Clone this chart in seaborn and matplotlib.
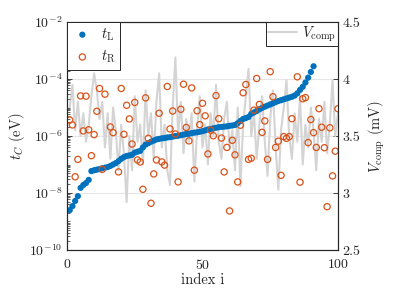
"""
Tunnel couplings t_L / t_R (log scale) with compensation voltage on a twin axis
"""
import numpy as np
import pandas as pd
import seaborn as sns
import matplotlib.pyplot as plt
from matplotlib.ticker import LogLocator, NullFormatter

# ---- data ----
idx_L = list(range(1, 92))
log_tL = [-8.60, -8.46, -8.28, -8.11, -7.82, -7.72, -7.65, -7.54, -7.23, -7.20,
          -7.18, -7.16, -7.13, -7.11, -7.09, -7.05, -7.00, -6.95, -6.88, -6.80,
          -6.74, -6.70, -6.68, -6.66, -6.58, -6.55, -6.52, -6.40, -6.30, -6.25,
          -6.20, -6.16, -6.12, -6.10, -6.08, -6.07, -6.05, -6.04, -6.02, -6.00,
          -5.99, -5.97, -5.95, -5.93, -5.92, -5.90, -5.88, -5.87, -5.85, -5.83,
          -5.80, -5.77, -5.75, -5.73, -5.71, -5.69, -5.68, -5.67, -5.66, -5.64,
          -5.63, -5.61, -5.55, -5.47, -5.40, -5.37, -5.33, -5.22, -5.17, -5.12,
          -5.06, -5.01, -4.97, -4.93, -4.89, -4.85, -4.81, -4.77, -4.74, -4.71,
          -4.68, -4.65, -4.62, -4.58, -4.50, -4.38, -4.27, -4.12, -3.95, -3.75,
          -3.55]

idx_R = [1, 2, 3, 4, 5, 6, 7, 8, 9, 10, 11, 12, 13, 14, 15, 16, 17, 19, 20, 21,
         22, 23, 24, 25, 26, 27, 28, 29, 30, 31, 32, 33, 34, 35, 36, 37, 38, 39, 40, 41,
         42, 43, 44, 45, 46, 47, 48, 49, 50, 51, 52, 53, 54, 55, 56, 57, 58, 59, 60, 61,
         62, 63, 64, 65, 66, 67, 68, 69, 70, 71, 72, 73, 74, 75, 76, 77, 78, 79, 80, 81,
         82, 83, 85, 86, 87, 88, 89, 90, 91, 92, 93, 94, 95, 96, 97, 98, 99, 100]
log_tR = [-5.44, -5.61, -7.43, -6.82, -4.59, -5.82, -4.60, -5.78, -6.69, -5.95,
          -5.13, -4.33, -7.17, -4.53, -3.55, -5.68, -5.88, -7.26, -4.33, -5.94,
          -4.92, -5.40, -6.28, -4.82, -6.84, -6.91, -7.87, -4.66, -6.08, -8.36,
          -7.33, -6.84, -5.20, -6.91, -7.02, -4.26, -5.75, -5.12, -5.93, -7.61,
          -5.06, -4.18, -5.70, -6.17, -4.31, -7.20, -5.11, -5.60, -4.85, -5.29,
          -6.63, -5.79, -5.99, -4.58, -5.39, -6.07, -7.26, -6.40, -8.63, -6.15,
          -6.66, -7.61, -5.62, -4.48, -4.19, -6.82, -6.78, -5.09, -3.98, -4.89,
          -5.87, -5.47, -6.82, -3.74, -4.62, -6.40, -6.18, -7.38, -6.02, -6.08,
          -6.02, -5.39, -3.92, -7.62, -4.69, -4.65, -6.23, -5.42, -5.88, -6.40,
          -5.04, -5.69, -6.41, -8.48, -5.71, -7.40, -6.53, -5.04]

idx_V = list(range(1, 101))
V_comp = [3.75, 3.95, 3.55, 3.80, 3.50, 3.70, 3.45, 3.60, 3.85, 4.05,
          3.90, 3.65, 3.80, 3.40, 3.70, 3.30, 3.75, 3.55, 3.20, 3.60,
          3.35, 2.92, 3.50, 3.20, 3.85, 3.45, 3.60, 3.25, 3.90, 3.50,
          3.70, 3.30, 3.80, 4.05, 3.40, 3.60, 3.20, 3.07, 3.75, 4.19,
          3.50, 3.80, 3.35, 3.65, 3.45, 3.70, 3.10, 3.55, 3.85, 3.40,
          3.60, 3.25, 3.70, 3.50, 3.95, 3.45, 3.30, 3.65, 3.80, 3.40,
          3.55, 3.20, 3.75, 3.06, 3.60, 3.85, 4.09, 3.50, 3.70, 3.30,
          3.60, 3.85, 3.45, 3.15, 3.65, 3.90, 3.40, 3.03, 3.55, 3.75,
          3.99, 3.50, 3.30, 3.70, 3.45, 3.85, 3.25, 3.60, 3.40, 3.75,
          3.55, 3.20, 3.65, 3.45, 3.80, 3.35, 3.60, 3.99, 3.50, 3.70]

x_ticks = [0, 50, 100]
t_ticks = [1e-10, 1e-8, 1e-6, 1e-4, 1e-2]
v_ticks = [2.5, 3, 3.5, 4, 4.5]
v_ticklabels = ['2.5', '3', '3.5', '4', '4.5']

df_L = pd.DataFrame({'i': idx_L, 't': 10.0 ** np.array(log_tL)})
df_R = pd.DataFrame({'i': idx_R, 't': 10.0 ** np.array(log_tR)})
df_V = pd.DataFrame({'i': idx_V, 'V': V_comp})

# ---- style ----
sns.set_theme(style="white")
plt.rcParams['font.family'] = ['cmr10', 'DejaVu Serif']
plt.rcParams['mathtext.fontset'] = 'cm'
plt.rcParams['axes.formatter.use_mathtext'] = True
plt.rcParams['font.size'] = 10

BLUE = '#0072BD'
ORANGE = '#D95319'
DARK = '0.15'

fig = plt.figure(figsize=(3.99, 2.99), dpi=100)
ax_t = fig.add_axes([0.168, 0.164, 0.679, 0.762])
ax_v = ax_t.twinx()
# keep the scatter axes on top of the gray line
ax_t.set_zorder(ax_v.get_zorder() + 1)
ax_t.patch.set_visible(False)

# gray compensation voltage on the right axis
sns.lineplot(data=df_V, x='i', y='V', ax=ax_v, color='0.83', linewidth=1.5,
             label=r'$V_\mathrm{comp}$')

# t_L / t_R on the left (log) axis
sns.scatterplot(data=df_L, x='i', y='t', ax=ax_t, color=BLUE, s=20,
                edgecolor='none', label=r'$t_\mathrm{L}$')
sns.scatterplot(data=df_R, x='i', y='t', ax=ax_t, facecolors='none',
                edgecolors=ORANGE, s=20, linewidth=0.9, label=r'$t_\mathrm{R}$')

ax_t.set_yscale('log')
ax_t.set_xlim(0, 100)
ax_t.set_ylim(1e-10, 1e-2)
ax_t.set_xticks(x_ticks)
ax_t.set_yticks(t_ticks)
ax_t.yaxis.set_minor_locator(LogLocator(base=10, subs=np.arange(1, 10), numticks=100))
ax_t.yaxis.set_minor_formatter(NullFormatter())

ax_v.set_ylim(2.5, 4.5)
ax_v.set_yticks(v_ticks, labels=v_ticklabels)

ax_t.set_xlabel('index i', fontsize=10.5, color=DARK, labelpad=1)
ax_t.set_ylabel(r'$t_C$ (eV)', fontsize=10.5, color=DARK, labelpad=2)
ax_v.set_ylabel(r'$V_\mathrm{comp}$ (mV)', fontsize=10.5, color=DARK, labelpad=5)

# grid lines (right-axis ticks line up with the left-axis decades)
ax_v.grid(True, color='0.9', linewidth=0.8)
ax_v.xaxis.grid(True, color='0.9', linewidth=0.8)
ax_t.grid(False)

for ax in (ax_t, ax_v):
    for sp in ax.spines.values():
        sp.set_color(DARK)
        sp.set_linewidth(0.8)
    ax.tick_params(which='major', direction='in', length=3.5, width=0.6,
                   color=DARK, labelcolor=DARK, labelsize=10, pad=3)
    ax.tick_params(which='minor', direction='in', length=2, width=0.5, color=DARK)

ax_t.tick_params(axis='x', pad=6)
ax_t.tick_params(axis='y', which='both', right=False)
ax_v.tick_params(axis='y', which='both', left=False)

leg_kw = dict(frameon=True, fancybox=False, framealpha=1, edgecolor=DARK,
              borderaxespad=0, fontsize=10.5)
leg_t = ax_t.legend(loc='upper left', handletextpad=0.5, handlelength=1.5,
                    labelspacing=0.4, borderpad=0.3, **leg_kw)
leg_t.get_frame().set_linewidth(0.7)
leg_v = ax_v.legend(loc='upper right', handlelength=2.0, handletextpad=0.3,
                    borderpad=0.15, **leg_kw)
leg_v.get_frame().set_linewidth(0.7)

plt.savefig('out.png', dpi=100)
plt.close()
